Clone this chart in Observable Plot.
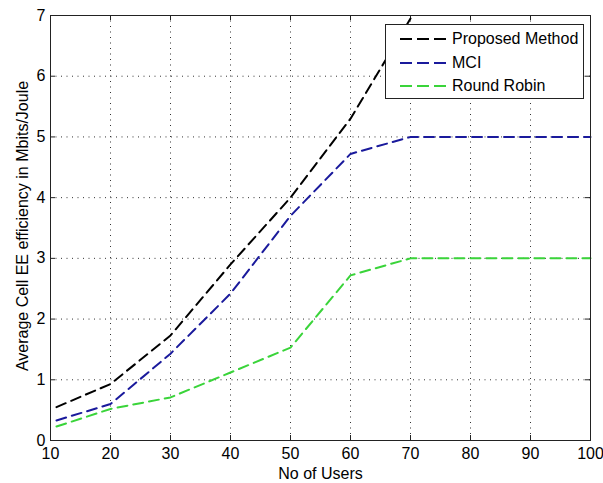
<!DOCTYPE html>
<html>
<head>
<meta charset="utf-8">
<script src="https://cdn.jsdelivr.net/npm/d3@7"></script>
<script src="https://cdn.jsdelivr.net/npm/@observablehq/plot@0.6"></script>
<style>
  html, body { margin: 0; padding: 0; background: #fff; }
  #wrap { position: relative; width: 603px; height: 483px; font-family: "Liberation Sans", Arial, sans-serif; }
  #legend { position: absolute; left: 385px; top: 24px; width: 197px; height: 73px; background: #fff; border: 1px solid #222; }
  .row { position: absolute; left: 14px; height: 20px; display: flex; align-items: center; font-size: 16px; color: #000; }
  .row svg { margin-right: 4px; }
</style>
</head>
<body>
<div id="wrap"></div>
<script>
const users = [11, 20, 30, 40, 50, 60, 70, 80, 90, 100];
const proposed = [0.55, 0.93, 1.73, 2.9, 4.0, 5.3, 6.95];
const mci = [0.33, 0.60, 1.43, 2.42, 3.7, 4.72, 5.0, 5.0, 5.0, 5.0];
const roundRobin = [0.23, 0.52, 0.71, 1.12, 1.53, 2.72, 3.0, 3.0, 3.0, 3.0];
const seriesNames = ["Proposed Method", "MCI", "Round Robin"];
const seriesColors = ["#000000", "#1a1a9c", "#3ad43a"];
const xTicks = [10, 20, 30, 40, 50, 60, 70, 80, 90, 100];
const yTicks = [0, 1, 2, 3, 4, 5, 6, 7];
const xLabel = "No of Users";
const yLabel = "Average Cell EE efficiency in Mbits/Joule";

const seriesValues = [proposed, mci, roundRobin];
const data = seriesValues.flatMap((vals, s) => vals.map((v, i) => ({series: seriesNames[s], x: users[i], y: v})));

const W = 603, H = 483, mL = 50, mR = 13, mT = 15, mB = 43;
const pw = W - mL - mR, ph = H - mT - mB;
const dash = "10,6";

const chart = Plot.plot({
  width: W, height: H,
  marginLeft: mL, marginRight: mR, marginTop: mT, marginBottom: mB,
  style: {fontFamily: '"Liberation Sans", Arial, sans-serif', fontSize: "16px", color: "#000", background: "#fff"},
  x: {domain: [10, 100], ticks: xTicks, tickSize: 0, tickPadding: 7, label: null, tickFormat: d => d},
  y: {domain: [0, 7], ticks: yTicks, tickSize: 0, tickPadding: 5, label: null, tickFormat: d => d},
  color: {domain: seriesNames, range: seriesColors},
  marks: [
    Plot.ruleX(xTicks, {x: d => d, stroke: "#333", strokeDasharray: "1,4.5", strokeWidth: 1}),
    Plot.ruleY(yTicks, {y: d => d, stroke: "#333", strokeDasharray: "1,4.5", strokeWidth: 1}),
    Plot.tickX(xTicks, {x: d => d, insetTop: ph - 5, stroke: "#222"}),
    Plot.tickX(xTicks, {x: d => d, insetBottom: ph - 5, stroke: "#222"}),
    Plot.tickY(yTicks, {y: d => d, insetRight: pw - 5, stroke: "#222"}),
    Plot.tickY(yTicks, {y: d => d, insetLeft: pw - 5, stroke: "#222"}),
    Plot.line(data, {x: "x", y: "y", z: "series", stroke: "series", strokeWidth: 2, strokeDasharray: dash}),
    Plot.frame({stroke: "#222", strokeWidth: 1}),
    Plot.text([xLabel], {text: d => d, frameAnchor: "bottom", textAnchor: "middle", lineAnchor: "middle", dy: 33, fontSize: 16}),
    Plot.text([yLabel], {text: d => d, frameAnchor: "left", textAnchor: "middle", lineAnchor: "middle", rotate: -90, dx: -28, dy: -2, fontSize: 16})
  ]
});

const wrap = document.getElementById("wrap");
wrap.appendChild(chart);

const legend = document.createElement("div");
legend.id = "legend";
const rowTops = [4, 28, 51];
seriesNames.forEach((name, i) => {
  const row = document.createElement("div");
  row.className = "row";
  row.style.top = rowTops[i] + "px";
  row.innerHTML = `<svg width="48" height="10"><line x1="0" y1="5" x2="46" y2="5" stroke="${seriesColors[i]}" stroke-width="2" stroke-dasharray="12,5"/></svg><span>${name}</span>`;
  legend.appendChild(row);
});
wrap.appendChild(legend);
</script>
</body>
</html>
